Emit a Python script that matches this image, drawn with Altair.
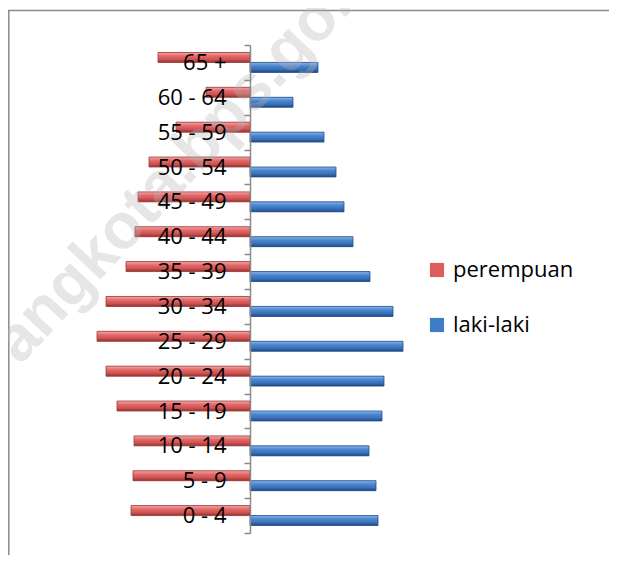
import altair as alt
import pandas as pd

ages = ["0 - 4", "5 - 9", "10 - 14", "15 - 19", "20 - 24", "25 - 29", "30 - 34",
        "35 - 39", "40 - 44", "45 - 49", "50 - 54", "55 - 59", "60 - 64", "65 +"]
perempuan = [119, 117, 116, 133, 144, 153, 144, 124, 115, 112, 101, 74, 44, 92]
laki_laki = [128, 126, 119, 132, 134, 153, 143, 120, 103, 94, 86, 74, 43, 68]

series = ["perempuan", "laki-laki"]
colors = ["#dd5c5c", "#3f7cc8"]

rows = []
for a, p, l in zip(ages, perempuan, laki_laki):
    rows.append({"umur": a, "jenis": "perempuan", "nilai": -p})
    rows.append({"umur": a, "jenis": "laki-laki", "nilai": l})
df = pd.DataFrame(rows)

order = list(reversed(ages))

y_enc = alt.Y(
    "umur:N",
    scale=alt.Scale(domain=order, paddingInner=0, paddingOuter=0),
    axis=alt.Axis(
        title=None, orient="left", offset=-170, zindex=1,
        domainColor="#8a8a8a", domainWidth=1.5,
        tickColor="#8a8a8a", tickWidth=1.5, tickSize=6, tickBand="extent",
        labelFont="Open Sans", labelFontSize=22, labelColor="#000000",
        labelPadding=18,
    ),
)
x_enc = alt.X("nilai:Q", scale=alt.Scale(domain=[-170, 170]), axis=None)
yoff_enc = alt.YOffset("jenis:N", scale=alt.Scale(domain=series, paddingInner=0, paddingOuter=0.75))

base = alt.Chart(df).mark_bar().encode(
    x=x_enc, y=y_enc, yOffset=yoff_enc,
    color=alt.Color(
        "jenis:N",
        scale=alt.Scale(domain=series, range=colors),
        legend=alt.Legend(
            title=None, orient="none", legendX=346, legendY=214, padding=0,
            symbolType="square", symbolSize=200, symbolStrokeWidth=0,
            labelFont="Open Sans", labelFontSize=22, labelColor="#000000",
            labelOffset=5, rowPadding=33,
        ),
    ),
)

red_grad = alt.Gradient(
    gradient="linear", x1=0, x2=0, y1=0, y2=1,
    stops=[alt.GradientStop(color="#f5aaaa", offset=0),
           alt.GradientStop(color="#e36a6a", offset=0.35),
           alt.GradientStop(color="#cf5252", offset=0.7),
           alt.GradientStop(color="#8e3232", offset=1)],
)
blue_grad = alt.Gradient(
    gradient="linear", x1=0, x2=0, y1=0, y2=1,
    stops=[alt.GradientStop(color="#8cb6ea", offset=0),
           alt.GradientStop(color="#4a86d0", offset=0.35),
           alt.GradientStop(color="#3a70b8", offset=0.7),
           alt.GradientStop(color="#1f4680", offset=1)],
)

red_layer = alt.Chart(df).transform_filter(alt.datum.jenis == "perempuan").mark_bar(
    color=red_grad, stroke="#9a3c3c", strokeWidth=0.8
).encode(x=x_enc, y=y_enc, yOffset=yoff_enc)

blue_layer = alt.Chart(df).transform_filter(alt.datum.jenis == "laki-laki").mark_bar(
    color=blue_grad, stroke="#24508a", strokeWidth=0.8
).encode(x=x_enc, y=y_enc, yOffset=yoff_enc)

one = pd.DataFrame({"k": [0]})

frame_top = alt.Chart(one).mark_rule(color="#8a8a8a", strokeWidth=1.5).encode(
    x=alt.value(-73), x2=alt.value(540), y=alt.value(-34.5)
)
frame_left = alt.Chart(one).mark_rule(color="#8a8a8a", strokeWidth=1.5).encode(
    x=alt.value(-71.2), y=alt.value(-35), y2=alt.value(520)
)

watermark = alt.Chart(one).mark_text(
    text="angkota.bps.go.id", angle=313, align="left", baseline="alphabetic",
    font="Liberation Sans", fontWeight="bold", fontSize=64,
    color="#b4b4b4", opacity=0.33,
).encode(x=alt.value(-60), y=alt.value(321))

chart = alt.layer(
    frame_top, frame_left, base, red_layer, blue_layer, watermark
).properties(
    width=340, height=488,
    padding={"left": 72, "top": 37, "right": 189, "bottom": 22},
    autosize="none",
    background="#ffffff",
).configure_view(strokeWidth=0, stroke=None)

chart.save("out.html", embed_options={"renderer": "svg", "actions": False})
